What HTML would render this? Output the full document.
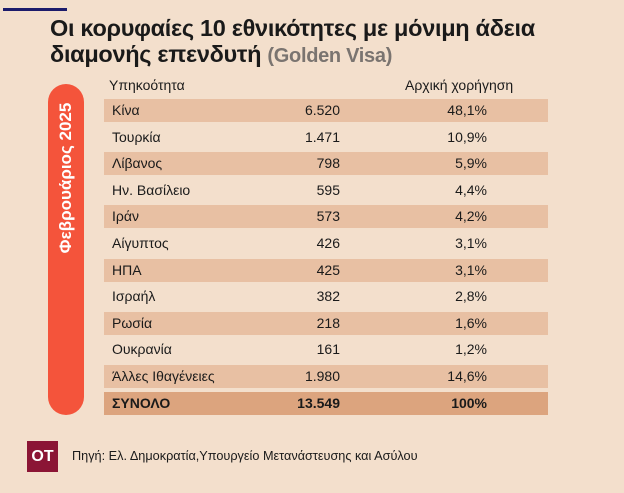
<!DOCTYPE html>
<html><head><meta charset="utf-8"><style>
body{margin:0;width:624px;height:493px;background:#f3dfcc;position:relative;overflow:hidden;font-family:"Liberation Sans","DejaVu Sans",sans-serif;color:#1a1a1a}
.a{position:absolute}
.title{left:50px;font-size:23.5px;font-weight:bold;letter-spacing:-0.3px;white-space:nowrap}
.row{position:absolute;left:104px;width:444px;height:23px;font-size:14px}
.row span{position:absolute;top:3px;white-space:nowrap}
</style></head><body>
<div class="a" style="left:3px;top:8px;width:64px;height:3px;background:#1c1b6b"></div>
<div class="a title" style="top:15px">Οι κορυφαίες 10 εθνικότητες με μόνιμη άδεια</div>
<div class="a title" style="top:41px">διαμονής επενδυτή <span style="color:#7a7470;font-size:20px">(Golden Visa)</span></div>
<div class="a" style="left:48px;top:84px;width:36px;height:331px;background:#f4543b;border-radius:18px"></div>
<div class="a" style="left:66px;top:178px;transform:translate(-50%,-50%) rotate(-90deg);color:#fff;font-weight:bold;font-size:17px;white-space:nowrap">Φεβρουάριος 2025</div>
<div class="a" style="left:109px;top:77px;font-size:14px">Υπηκοότητα</div>
<div class="a" style="left:405px;top:77px;font-size:14px">Αρχική χορήγηση</div>
<div id="tbl"></div>
<div class="a" style="left:27px;top:441px;width:31px;height:31px;background:#8b1535;color:#fff;font-weight:bold;font-size:16px;text-align:center;line-height:31px">OT</div>
<div class="a" style="left:72px;top:449px;font-size:12.7px">Πηγή: Ελ. Δημοκρατία,Υπουργείο Μετανάστευσης και Ασύλου</div>
<script>
const countries=["Κίνα","Τουρκία","Λίβανος","Ην. Βασίλειο","Ιράν","Αίγυπτος","ΗΠΑ","Ισραήλ","Ρωσία","Ουκρανία","Άλλες Ιθαγένειες","ΣΥΝΟΛΟ"];
const counts=["6.520","1.471","798","595","573","426","425","382","218","161","1.980","13.549"];
const shares=["48,1%","10,9%","5,9%","4,4%","4,2%","3,1%","3,1%","2,8%","1,6%","1,2%","14,6%","100%"];
const tbl=document.getElementById('tbl');
countries.forEach((c,i)=>{
  const r=document.createElement('div');
  r.className='row';
  
  
  r.style.top=(99+i*26.6)+'px';
  const total=i===countries.length-1;
  if(total){r.style.background='#dca47e';r.style.fontWeight='bold';}
  else if(i%2===0) r.style.background='#e8c0a3';
  r.innerHTML='<span style="left:8px">'+c+'</span><span style="right:208px">'+counts[i]+'</span><span style="right:61px">'+shares[i]+'</span>';
  tbl.appendChild(r);
});
</script>
</body></html>
